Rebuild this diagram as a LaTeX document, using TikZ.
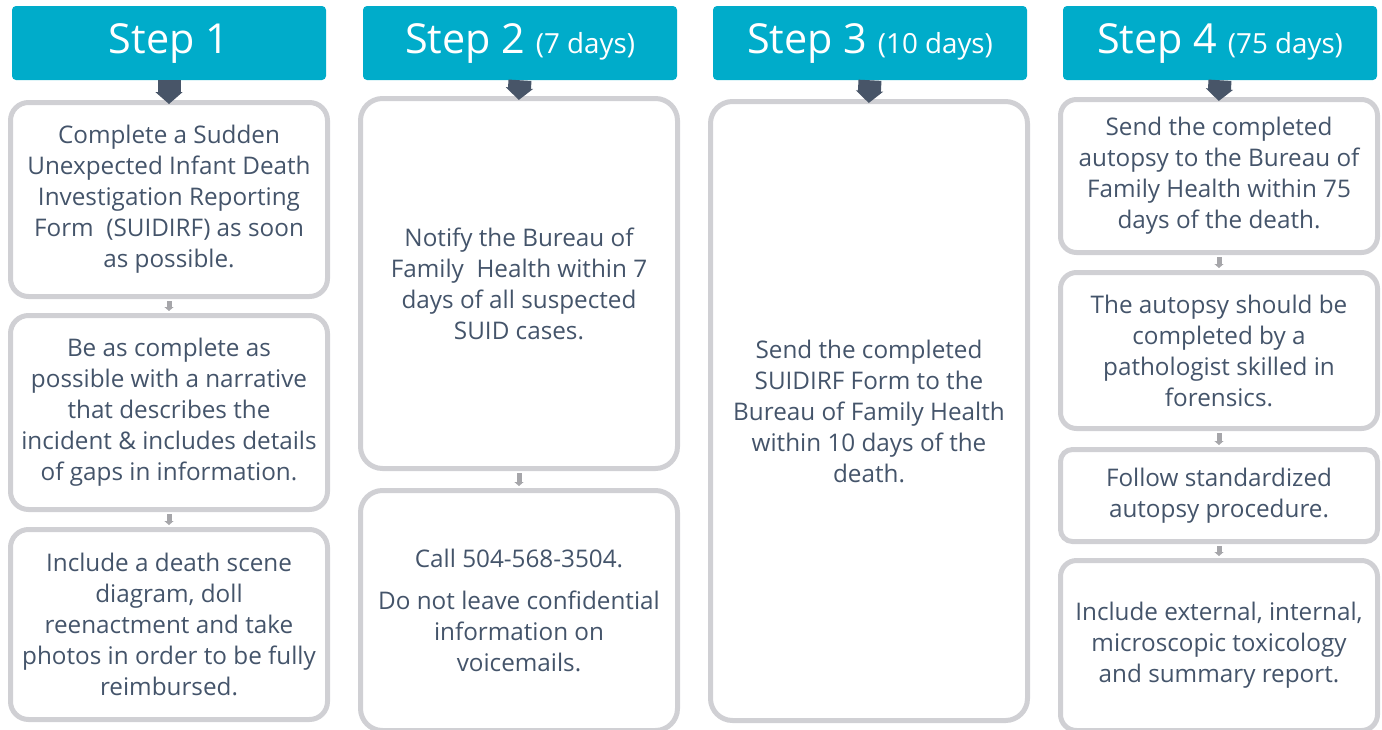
\documentclass[tikz,border=0pt]{standalone}
\usepackage{fontspec}
\setmainfont{Open Sans}
\usetikzlibrary{arrows.meta}
\definecolor{hdr}{RGB}{0,172,202}
\definecolor{bord}{RGB}{208,208,212}
\definecolor{txt}{RGB}{68,84,106}
\definecolor{darr}{RGB}{72,85,104}
\definecolor{sarr}{RGB}{166,166,170}
\newcommand\mybody{\fontsize{18.2}{23.25}\selectfont}
\newcommand\myhead{\fontsize{31}{36}\selectfont}
\newcommand\mysmall{\fontsize{20.8}{26}\selectfont}
\begin{document}
\begin{tikzpicture}[x=0.75pt,y=-0.75pt,
  hd/.style={fill=hdr, rounded corners=3pt, minimum width=235.5pt, minimum height=55.5pt,
    text=white, inner sep=0pt, font=\myhead},
  bx/.style 2 args={draw=bord, line width=3.75pt, minimum width=237.75pt, minimum height=#1pt,
    rounded corners=#2pt, text=txt, align=center, inner sep=0pt, font=\mybody},
  bigarr/.style={draw=darr, line width=17.25pt, -{Triangle[width=20pt,length=9pt]}, shorten >=-3pt},
  smarr/.style={draw=sarr, line width=3.75pt, -{Triangle[width=6.75pt,length=3pt]},
    shorten <=1.5pt, shorten >=1.5pt}
]
\useasboundingbox (0,0) rectangle (1382,729);
\clip (0,0) rectangle (1382,729);

% headers
\node[hd] (h1) at (169,43) {Step 1};
\node[hd] (h2) at (520,43) {Step 2 {\mysmall(7 days)}};
\node[hd] (h3) at (870,43) {Step 3 {\mysmall(10 days)}};
\node[hd] (h4) at (1220,43) {Step 4 {\mysmall(75 days)}};

% column 1
\node[bx={145.5}{13.5}] (a1) at (169,199.5) {Complete a Sudden\\Unexpected Infant Death\\Investigation Reporting\\Form~ (SUIDIRF) as soon\\as possible.};
\node[bx={145.5}{13.5}] (a2) at (169,412.5) {Be as complete as\\possible with a narrative\\that describes the\\incident \& includes details\\of gaps in information.};
\node[bx={142.5}{13.5}] (a3) at (169,624.5) {Include a death scene\\diagram, doll\\reenactment and take\\photos in order to be fully\\reimbursed.};

% column 2
\node[bx={277.5}{16.5}] (b1) at (519,283.5) {Notify the Bureau of\\Family~ Health within 7\\days of all suspected\\SUID cases.};
\node[bx={180}{16.5}] (b2) at (519,610.5) {Call 504-568-3504.\\[8pt]Do not leave confidential\\information on\\voicemails.};

% column 3
\node[bx={464.25}{16.5}] (c1) at (869,411) {Send the completed\\SUIDIRF Form to the\\Bureau of Family Health\\within 10 days of the\\death.};

% column 4
\node[bx={114.75}{12}] (d1) at (1219,176) {Send the completed\\autopsy to the Bureau of\\Family Health within 75\\days of the death.};
\node[bx={117}{12}] (d2) at (1219,350.5) {The autopsy should be\\completed by a\\pathologist skilled in\\forensics.};
\node[bx={69}{9}] (d3) at (1219,495.5) {Follow standardized\\autopsy procedure.};
\node[bx={127.5}{12}] (d4) at (1219,645.5) {Include external, internal,\\microscopic toxicology\\and summary report.};

% header arrows
\draw[bigarr] (h1.south) -- (a1.north);
\draw[bigarr] (h2.south) -- (b1.north);
\draw[bigarr] (h3.south) -- (c1.north);
\draw[bigarr] (h4.south) -- (d1.north);

% small arrows
\draw[smarr] (a1.south) -- (a2.north);
\draw[smarr] (a2.south) -- (a3.north);
\draw[smarr] (b1.south) -- (b2.north);
\draw[smarr] (d1.south) -- (d2.north);
\draw[smarr] (d2.south) -- (d3.north);
\draw[smarr] (d3.south) -- (d4.north);
\end{tikzpicture}
\end{document}
